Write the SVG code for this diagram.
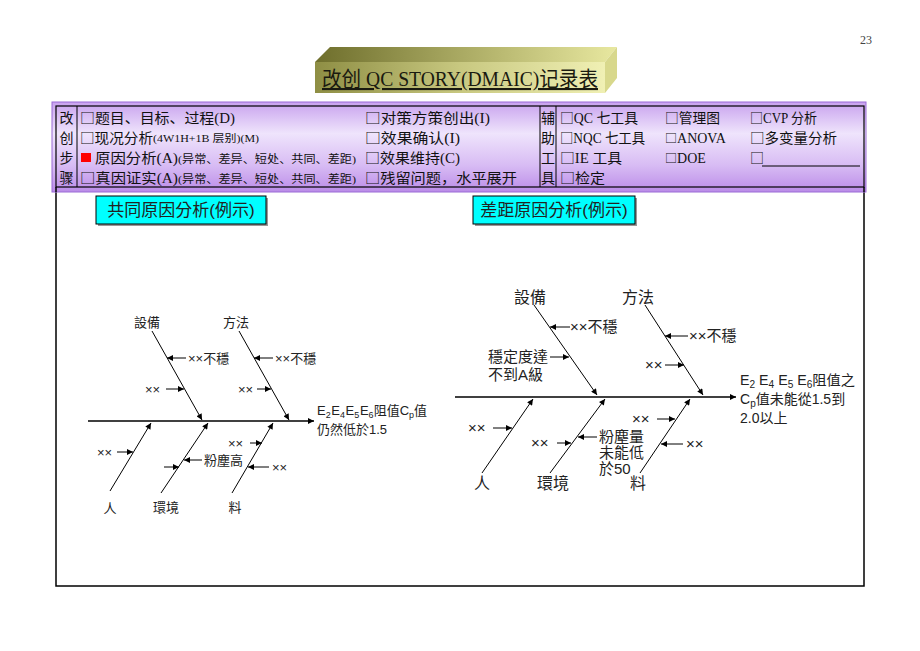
<svg xmlns="http://www.w3.org/2000/svg" width="920" height="651" viewBox="0 0 920 651">
<defs>
<linearGradient id="tblg" x1="0" y1="0" x2="0" y2="1">
<stop offset="0" stop-color="#c8a2ee"/><stop offset="0.35" stop-color="#efe4fc"/><stop offset="0.7" stop-color="#d8bcf4"/><stop offset="1" stop-color="#bb8ce8"/>
</linearGradient>
<linearGradient id="frontg" x1="0" y1="0" x2="1" y2="0">
<stop offset="0" stop-color="#8e8e44"/><stop offset="0.5" stop-color="#c8c880"/><stop offset="1" stop-color="#f0f0b4"/>
</linearGradient>
<linearGradient id="topg" x1="0" y1="0" x2="1" y2="0">
<stop offset="0" stop-color="#6e6e2c"/><stop offset="0.6" stop-color="#b8b870"/><stop offset="1" stop-color="#e8e8a0"/>
</linearGradient>
<marker id="ah" viewBox="0 0 10 10" refX="10" refY="5" markerWidth="8" markerHeight="6" markerUnits="userSpaceOnUse" orient="auto"><path d="M0,0 L10,5 L0,10 z" fill="#000"/></marker>
<style>
.tb{font-family:"Liberation Serif","Noto Sans CJK SC",serif;font-size:14px;fill:#111}
.bx{font-family:"Noto Sans CJK SC",sans-serif;font-size:14px}
.bs{font-family:"Noto Sans CJK SC",sans-serif;font-size:12px}
.sm{font-size:10px}
.sm2{font-size:11px}
.cl{font-family:"Noto Sans CJK SC",sans-serif;font-size:14px;fill:#111;text-anchor:middle}
.fs{font-family:"Liberation Sans","Noto Sans CJK TC",sans-serif;fill:#222}
.l{font-size:13px}
.r{font-size:15px}
.e{font-size:14px}
.lb{font-size:16px}
.ttl{font-family:"Liberation Serif","Noto Sans CJK SC",serif;font-size:21px;fill:#1a1a10}
.bone{stroke:#000;stroke-width:1;fill:none;marker-end:url(#ah)}
.spine{stroke:#000;stroke-width:1.5;fill:none;marker-end:url(#ah)}
.box{fill:#00ffff;stroke:#000;stroke-width:1}
</style>
</defs>
<rect width="920" height="651" fill="#fff"/>
<text x="866" y="44" font-family="Liberation Serif" font-size="12" fill="#444" text-anchor="middle">23</text>

<g id="title">
<polygon points="315,62 330,47 617,47 605,62" fill="url(#topg)"/>
<polygon points="605,62 617,47 617,78 605,93" fill="#d8d88c"/>
<rect x="315" y="62" width="290" height="31" fill="url(#frontg)"/>
<text class="ttl" x="322" y="86" textLength="276" lengthAdjust="spacingAndGlyphs" text-decoration="underline">改创 QC STORY(DMAIC)记录表</text>
</g>

<g id="frame">
<rect x="56" y="106" width="808" height="480" fill="none" stroke="#000" stroke-width="1.5"/>
</g>

<g id="table">
<rect x="52" y="102" width="814" height="90" fill="url(#tblg)" stroke="#9a6ad6" stroke-width="1"/>
<rect x="56" y="106" width="808" height="81" fill="none" stroke="#000" stroke-width="1.2"/>
<line x1="56" y1="187" x2="56" y2="192" stroke="#000" stroke-width="1.5"/>
<line x1="864" y1="187" x2="864" y2="192" stroke="#000" stroke-width="1.5"/>
<line x1="77" y1="106" x2="77" y2="187" stroke="#000"/>
<line x1="540" y1="106" x2="540" y2="187" stroke="#000"/>
<line x1="556" y1="106" x2="556" y2="187" stroke="#000"/>
<text class="cl" x="66.5" y="123">改</text>
<text class="cl" x="66.5" y="143">创</text>
<text class="cl" x="66.5" y="163">步</text>
<text class="cl" x="66.5" y="183">骤</text>
<text class="tb" x="80" y="123" textLength="155" lengthAdjust="spacingAndGlyphs"><tspan class="bx">□</tspan>题目、目标、过程(D)</text>
<text class="tb" x="80" y="143" textLength="73" lengthAdjust="spacingAndGlyphs"><tspan class="bx">□</tspan>现况分析</text>
<text class="tb sm" x="153" y="142" textLength="106" lengthAdjust="spacingAndGlyphs">(4W1H+1B 层别)(M)</text>
<rect x="81" y="153" width="10" height="9" fill="#ff0000"/>
<text class="tb" x="95" y="163" textLength="83" lengthAdjust="spacingAndGlyphs">原因分析(A)</text>
<text class="tb sm2" x="178" y="163" textLength="178" lengthAdjust="spacingAndGlyphs">(异常、差异、短处、共同、差距)</text>
<text class="tb" x="80" y="183" textLength="98" lengthAdjust="spacingAndGlyphs"><tspan class="bx">□</tspan>真因证实(A)</text>
<text class="tb sm2" x="178" y="183" textLength="178" lengthAdjust="spacingAndGlyphs">(异常、差异、短处、共同、差距)</text>
<text class="tb" x="365" y="123" textLength="125" lengthAdjust="spacingAndGlyphs"><tspan class="bx">□</tspan>对策方策创出(I)</text>
<text class="tb" x="365" y="143" textLength="95" lengthAdjust="spacingAndGlyphs"><tspan class="bx">□</tspan>效果确认(I)</text>
<text class="tb" x="365" y="163" textLength="95" lengthAdjust="spacingAndGlyphs"><tspan class="bx">□</tspan>效果维持(C)</text>
<text class="tb" x="365" y="183" textLength="152" lengthAdjust="spacingAndGlyphs"><tspan class="bx">□</tspan>残留问题，水平展开</text>
<text class="cl" x="548" y="123">辅</text>
<text class="cl" x="548" y="143">助</text>
<text class="cl" x="548" y="163">工</text>
<text class="cl" x="548" y="183">具</text>
<text class="tb" x="560" y="123" textLength="78" lengthAdjust="spacingAndGlyphs"><tspan class="bx">□</tspan>QC 七工具</text>
<text class="tb" x="665" y="123" textLength="55" lengthAdjust="spacingAndGlyphs"><tspan class="bx">□</tspan>管理图</text>
<text class="tb" x="750" y="123" textLength="67" lengthAdjust="spacingAndGlyphs"><tspan class="bx">□</tspan>CVP 分析</text>
<text class="tb" x="560" y="143" textLength="85" lengthAdjust="spacingAndGlyphs"><tspan class="bx">□</tspan>NQC 七工具</text>
<text class="tb" x="665" y="143" font-size="11"><tspan class="bs">□</tspan>ANOVA</text>
<text class="tb" x="750" y="143" textLength="87" lengthAdjust="spacingAndGlyphs"><tspan class="bx">□</tspan>多变量分析</text>
<text class="tb" x="560" y="163" textLength="62" lengthAdjust="spacingAndGlyphs"><tspan class="bx">□</tspan>IE 工具</text>
<text class="tb" x="665" y="163" font-size="11"><tspan class="bs">□</tspan>DOE</text>
<text class="tb bx" x="750" y="163">□</text>
<line x1="762" y1="166" x2="860" y2="166" stroke="#000"/>
<text class="tb" x="560" y="183" textLength="45" lengthAdjust="spacingAndGlyphs"><tspan class="bx">□</tspan>检定</text>
</g>

<g id="label-common">
<rect x="98" y="198" width="170" height="28" fill="#999"/>
<rect class="box" x="96" y="196" width="170" height="28"/>
<text class="fs" x="181" y="216" font-size="17" text-anchor="middle" fill="#111">共同原因分析(例示)</text>
</g>
<g id="label-gap">
<rect x="475" y="198" width="162" height="28" fill="#999"/>
<rect class="box" x="473" y="196" width="162" height="28"/>
<text class="fs" x="554" y="216" font-size="17" text-anchor="middle" fill="#111">差距原因分析(例示)</text>
</g>

<g id="connectors">
<line class="spine" x1="88" y1="421" x2="314" y2="421"/>
<line class="bone" x1="152" y1="331" x2="202" y2="420"/>
<line class="bone" x1="239" y1="331" x2="289" y2="420"/>
<line class="bone" x1="110" y1="491" x2="151" y2="423"/>
<line class="bone" x1="161" y1="493" x2="208" y2="423"/>
<line class="bone" x1="232" y1="493" x2="273" y2="423"/>
<line class="bone" x1="186" y1="358" x2="167" y2="358"/>
<line class="bone" x1="166" y1="389" x2="184" y2="389"/>
<line class="bone" x1="273" y1="358" x2="254" y2="358"/>
<line class="bone" x1="257" y1="389" x2="271" y2="389"/>
<line class="bone" x1="117" y1="452" x2="133" y2="452"/>
<line class="bone" x1="202" y1="460" x2="184" y2="460"/>
<line class="bone" x1="164" y1="467" x2="179" y2="467"/>
<line class="bone" x1="250" y1="443" x2="262" y2="443"/>
<line class="bone" x1="269" y1="467" x2="248" y2="467"/>

<line class="spine" x1="455" y1="397" x2="736" y2="397"/>
<line class="bone" x1="534" y1="305" x2="597" y2="395"/>
<line class="bone" x1="645" y1="305" x2="703" y2="395"/>
<line class="bone" x1="482" y1="473" x2="533" y2="399"/>
<line class="bone" x1="550" y1="473" x2="605" y2="399"/>
<line class="bone" x1="640" y1="473" x2="690" y2="399"/>
<line class="bone" x1="570" y1="327" x2="550" y2="327"/>
<line class="bone" x1="550" y1="357" x2="569" y2="357"/>
<line class="bone" x1="688" y1="336" x2="665" y2="336"/>
<line class="bone" x1="665" y1="365" x2="684" y2="365"/>
<line class="bone" x1="493" y1="428" x2="512" y2="428"/>
<line class="bone" x1="557" y1="443" x2="571" y2="443"/>
<line class="bone" x1="597" y1="437" x2="578" y2="437"/>
<line class="bone" x1="657" y1="419" x2="675" y2="419"/>
<line class="bone" x1="683" y1="444" x2="661" y2="444"/>
</g>

<g id="fishbone-common">
<text class="fs l" x="147" y="327" text-anchor="middle">設備</text>
<text class="fs l" x="236" y="327" text-anchor="middle">方法</text>
<text class="fs l" x="110" y="513" text-anchor="middle">人</text>
<text class="fs l" x="166" y="512" text-anchor="middle">環境</text>
<text class="fs l" x="235" y="512" text-anchor="middle">料</text>
<text class="fs l" x="188" y="363">××不穩</text>
<text class="fs l" x="145" y="394">××</text>
<text class="fs l" x="275" y="363">××不穩</text>
<text class="fs l" x="238" y="394">××</text>
<text class="fs l" x="97" y="457">××</text>
<text class="fs l" x="204" y="465">粉塵高</text>
<text class="fs l" x="228" y="448">××</text>
<text class="fs l" x="272" y="472">××</text>
<text class="fs l" x="317" y="415" word-spacing="-3">E<tspan font-size="9" dy="3">2</tspan><tspan dy="-3"> E</tspan><tspan font-size="9" dy="3">4</tspan><tspan dy="-3"> E</tspan><tspan font-size="9" dy="3">5</tspan><tspan dy="-3"> E</tspan><tspan font-size="9" dy="3">6</tspan><tspan dy="-3">阻值C</tspan><tspan font-size="9" dy="3">p</tspan><tspan dy="-3">值</tspan></text>
<text class="fs l" x="317" y="434">仍然低於1.5</text>
</g>

<g id="fishbone-gap">
<text class="fs lb" x="530" y="303" text-anchor="middle">設備</text>
<text class="fs lb" x="638" y="303" text-anchor="middle">方法</text>
<text class="fs lb" x="482" y="489" text-anchor="middle">人</text>
<text class="fs lb" x="553" y="489" text-anchor="middle">環境</text>
<text class="fs lb" x="638" y="489" text-anchor="middle">料</text>
<text class="fs r" x="570" y="332">××不穩</text>
<text class="fs r" x="488" y="362">穩定度達</text>
<text class="fs r" x="488" y="380">不到A級</text>
<text class="fs r" x="689" y="341">××不穩</text>
<text class="fs r" x="645" y="370">××</text>
<text class="fs r" x="468" y="433">××</text>
<text class="fs r" x="531" y="448">××</text>
<text class="fs r" x="599" y="442">粉塵量</text>
<text class="fs r" x="599" y="458">未能低</text>
<text class="fs r" x="599" y="474">於50</text>
<text class="fs r" x="632" y="424">××</text>
<text class="fs r" x="686" y="449">××</text>
<text class="fs e" x="740" y="385" textLength="115" lengthAdjust="spacingAndGlyphs">E<tspan font-size="10" dy="3">2</tspan><tspan dy="-3"> E</tspan><tspan font-size="10" dy="3">4</tspan><tspan dy="-3"> E</tspan><tspan font-size="10" dy="3">5</tspan><tspan dy="-3"> E</tspan><tspan font-size="10" dy="3">6</tspan><tspan dy="-3">阻值之</tspan></text>
<text class="fs e" x="740" y="404">C<tspan font-size="10" dy="3">p</tspan><tspan dy="-3">值未能從1.5到</tspan></text>
<text class="fs e" x="740" y="423">2.0以上</text>
</g>
</svg>
